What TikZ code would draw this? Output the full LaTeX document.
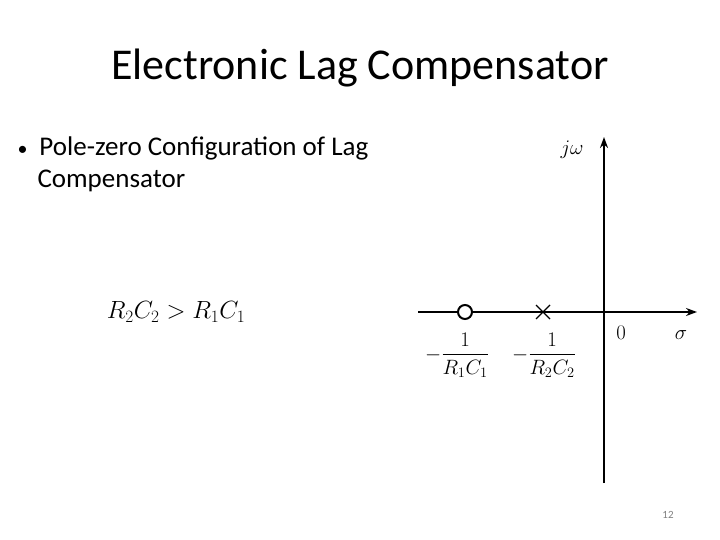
\documentclass[tikz,border=0pt]{standalone}
\usepackage{fontspec}
\setmainfont{Carlito}
\usepackage{amsmath}
\usetikzlibrary{arrows.meta}
\begin{document}
\begin{tikzpicture}[x=1pt,y=-1pt,
  ax/.style={line width=2.5pt,-{Stealth[length=11pt,width=8pt]}},
  lab/.style={font=\fontsize{21}{25}\selectfont}]
\useasboundingbox (0,0) rectangle (720,540);
\node (title) at (360,68) {\fontsize{44}{48}\selectfont Electronic Lag Compensator};
\node[anchor=north west,align=left,font=\fontsize{27}{32}\selectfont] (bullet) at (14,133)
  {{\fontsize{20}{20}\selectfont•}\hspace{12pt}Pole-zero Configuration of Lag\\\hspace{20pt}Compensator};
\node[font=\fontsize{24}{28}\selectfont] (ineq) at (176,312) {$R_2C_2 > R_1C_1$};
\coordinate (vb) at (604,483); \coordinate (vt) at (604,137);
\coordinate (hl) at (418,312); \coordinate (hr) at (697,312);
\draw[ax] (vb) -- (vt);
\draw[ax] (hl) -- (hr);
\node[circle,draw,line width=2pt,fill=white,minimum size=14pt,inner sep=0] (zero) at (465,312) {};
\coordinate (pole) at (543,312);
\draw[line width=1.3pt] ([shift={(-7,-7)}]pole) -- ([shift={(7,7)}]pole)
  ([shift={(-7,7)}]pole) -- ([shift={(7,-7)}]pole);
\node[lab] (z1) at (457,355) {$-\dfrac{1}{R_1C_1}$};
\node[lab] (p1) at (544,355) {$-\dfrac{1}{R_2C_2}$};
\node[lab] (o) at (621,333) {$0$};
\node[lab] (sig) at (681,335) {$\sigma$};
\node[lab] (jw) at (572,150) {$j\omega$};
\node[font=\fontsize{11}{12}\selectfont,text=gray] (pg) at (668,515) {12};
\end{tikzpicture}
\end{document}
